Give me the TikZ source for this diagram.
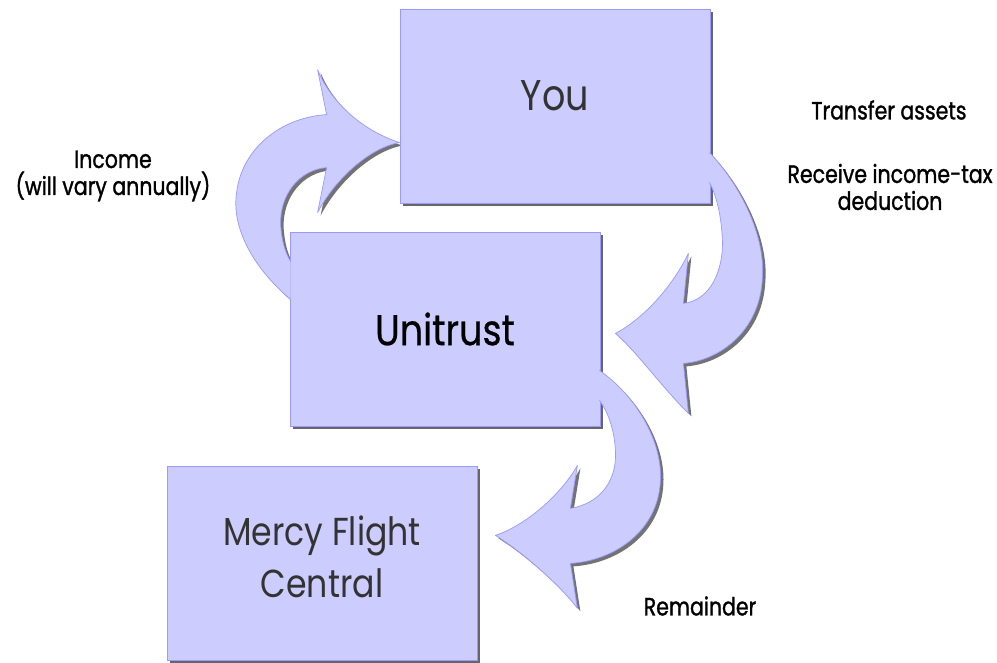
\documentclass[tikz,border=0pt]{standalone}
\usepackage{fontspec}
\setmainfont{Poppins}
\newfontfamily\boxfont[FakeStretch=0.85]{Poppins}
\newfontfamily\trustfont[FakeStretch=0.85,FakeBold=0.6]{Poppins}
\newfontfamily\notefont[FakeStretch=0.82,FakeBold=1.2]{Poppins}
\usetikzlibrary{shadows,backgrounds}

\definecolor{boxfill}{HTML}{CCCCFF}
\definecolor{boxline}{HTML}{9999FF}
\definecolor{boxtext}{HTML}{333333}

\tikzset{
  party/.style={rectangle,draw=boxline,fill=boxfill,line width=0.8pt,
    minimum width=310pt,minimum height=194pt,inner sep=0pt,align=center,
    text=boxtext,font=\boxfont\fontsize{43}{52}\selectfont,
    drop shadow={shadow xshift=3pt,shadow yshift=-3pt,fill=black,opacity=0.6}},
  note/.style={align=center,font=\notefont\fontsize{25}{27}\selectfont},
  flowshadow/.style={fill=black,opacity=0.55},
  flowfill/.style={fill=boxfill},
  flowline/.style={draw=boxline,line width=0.7pt,line join=round}
}

% block arrows, coordinates taken from the corner of the box they leave
\newcommand\incomeflow{(1,68) .. controls (-40,33) and (-58,-7) .. (-53,-39)
  .. controls (-48,-82) and (-10,-114) .. (37,-117) -- (28,-162)
  .. controls (40,-132) and (70,-102) .. (110,-89)
  .. controls (80,-84) and (45,-52) .. (28,-19) -- (37,-64)
  .. controls (10,-62) and (-10,-37) .. (-9,-7)
  .. controls (-8,8) and (-5,20) .. (1,30)}
\newcommand\transferflow{(-1,-51) .. controls (30,-18) and (55,32) .. (52,74)
  .. controls (50,127) and (10,157) .. (-27,160) -- (-22,210)
  .. controls (-50,182) and (-75,147) .. (-95,130)
  .. controls (-70,117) and (-40,87) .. (-22,50) -- (-27,100)
  .. controls (0,97) and (13,67) .. (12,37)
  .. controls (11,12) and (6,-8) .. (-1,-21)}
\newcommand\remainderflow{(-1,-56) .. controls (35,-31) and (62,14) .. (60,54)
  .. controls (58,104) and (15,134) .. (-30,137) -- (-23,182)
  .. controls (-40,159) and (-80,124) .. (-105,109)
  .. controls (-75,99) and (-40,69) .. (-23,39) -- (-30,82)
  .. controls (0,77) and (17,54) .. (15,24)
  .. controls (14,4) and (8,-14) .. (-1,-26)}

\begin{document}
\begin{tikzpicture}[x=1pt,y=-1pt]
\useasboundingbox (0,0) rectangle (997,663);

% the three parties
\node[party,text depth=20pt] (you) at (555,106) {You};
\node[party,text=black,font=\trustfont\fontsize{43}{52}\selectfont] (unitrust) at (445,329) {Unitrust};
\node[party,font=\boxfont\fontsize{39}{52}\selectfont,text depth=13pt] (mercy) at (322,563) {Mercy Flight\\Central};

% notes
\node[note] (income) at (113,176) {Income\\(will vary annually)};
\node[note] (transfer) at (889,110) {Transfer assets};
\node[note] (deduction) at (890,187) {Receive income-tax\\deduction};
\node[note] (remainder) at (700,606) {Remainder};

% arrows
\begin{scope}[shift={(unitrust.north west)}]
  \begin{pgfonlayer}{background}
    \fill[flowshadow,shift={(3,3)}] \incomeflow;
  \end{pgfonlayer}
  \fill[flowfill] \incomeflow;
  \draw[flowline] \incomeflow;
\end{scope}
\begin{scope}[shift={(you.south east)}]
  \begin{pgfonlayer}{background}
    \fill[flowshadow,shift={(3,3)}] \transferflow;
  \end{pgfonlayer}
  \fill[flowfill] \transferflow;
  \draw[flowline] \transferflow;
\end{scope}
\begin{scope}[shift={(unitrust.south east)}]
  \begin{pgfonlayer}{background}
    \fill[flowshadow,shift={(3,3)}] \remainderflow;
  \end{pgfonlayer}
  \fill[flowfill] \remainderflow;
  \draw[flowline] \remainderflow;
\end{scope}
\end{tikzpicture}
\end{document}
